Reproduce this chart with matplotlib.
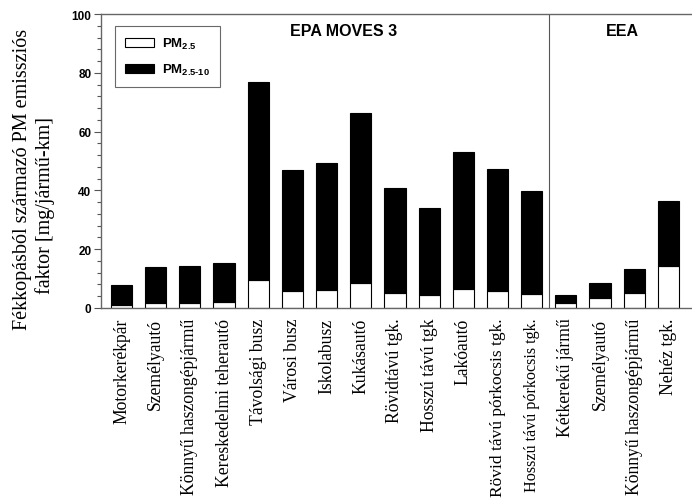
import matplotlib
matplotlib.use("Agg")
import matplotlib.pyplot as plt
from matplotlib.patches import Patch
from matplotlib.ticker import MultipleLocator
import numpy as np

categories = [
    "Motorkerékpár", "Személyautó", "Könnyű haszongépjármű",
    "Kereskedelmi teherautó", "Távolsági busz", "Városi busz",
    "Iskolabusz", "Kukásautó", "Rövidtávú tgk.", "Hosszú távú tgk",
    "Lakóautó", "Rövid távú pórkocsis tgk.", "Hosszú távú pórkocsis tgk.",
    "Kétkerekű jármű", "Személyautó", "Könnyű haszongépjármű", "Nehéz tgk.",
]
# PM2.5 part and total PM10 (mg/jármű-km)
pm25 = [1.1, 1.7, 1.7, 1.9, 9.5, 5.7, 6.1, 8.4, 5.1, 4.3, 6.6, 5.8, 4.9,
        1.7, 3.3, 5.1, 14.4]
pm10_total = [7.9, 13.8, 14.4, 15.3, 77.0, 47.0, 49.3, 66.2, 40.9, 34.1,
              53.0, 47.3, 39.7, 4.4, 8.4, 13.2, 36.3]
pm25_10 = [t - f for t, f in zip(pm10_total, pm25)]
groups = ["EPA MOVES 3", "EEA"]
n_epa = 13

plt.rcParams["mathtext.fontset"] = "custom"
plt.rcParams["mathtext.rm"] = "Liberation Sans:bold"
plt.rcParams["mathtext.bf"] = "Liberation Sans:bold"
plt.rcParams["mathtext.default"] = "bf"

fig = plt.figure(figsize=(6.92, 5.02), dpi=100)
ax = fig.add_axes([0.146, 0.3845, 0.854, 0.5855])

x = np.arange(len(categories))
w = 0.62
ax.bar(x, pm25, w, color="white", edgecolor="black", linewidth=0.8)
ax.bar(x, pm25_10, w, bottom=pm25, color="black", edgecolor="black",
       linewidth=0.8)

ax.set_xlim(-0.6, 16.69)
ax.set_ylim(0, 100)
ax.yaxis.set_major_locator(MultipleLocator(20))
ax.yaxis.set_minor_locator(MultipleLocator(4))
ax.tick_params(axis="y", which="major", length=5, width=0.8, color="#555555",
               labelsize=8.5, pad=2)
ax.tick_params(axis="y", which="minor", length=3, width=0.8, color="#555555")
for lab in ax.get_yticklabels():
    lab.set_fontfamily("Liberation Sans")
    lab.set_fontweight("bold")

ax.set_xticks(x)
ax.set_xticklabels(categories, rotation=90, family="Liberation Serif",
                   fontsize=12.7)
ax.tick_params(axis="x", length=0, pad=7)
# the two long trailer-truck labels are set smaller so they fit
label_sizes = {11: 12.5, 12: 11.6}
for i, lab in enumerate(ax.get_xticklabels()):
    if i in label_sizes:
        lab.set_fontsize(label_sizes[i])

for side in ("left", "bottom", "top"):
    ax.spines[side].set_color("#666666")
    ax.spines[side].set_linewidth(1.0)
ax.spines["right"].set_visible(False)

ax.axvline(n_epa - 0.5, color="#555555", linewidth=0.8)

ax.text((n_epa - 1) / 2 + 0.5, 94.5, groups[0], ha="center", va="center",
        family="Liberation Sans", fontweight="bold", fontsize=11.5)
ax.text(n_epa - 0.5 + (len(categories) - n_epa) / 2 + 0.15, 94.5, groups[1],
        ha="center", va="center", family="Liberation Sans",
        fontweight="bold", fontsize=11.5)

handles = [Patch(facecolor="white", edgecolor="black", linewidth=0.8),
           Patch(facecolor="black", edgecolor="black", linewidth=0.8)]
leg = ax.legend(handles, ["PM$_{2.5}$", "PM$_{2.5\u201010}$"],
                loc="upper left", bbox_to_anchor=(0.024, 0.959),
                borderaxespad=0, frameon=True, fancybox=False,
                edgecolor="#444444",
                prop={"family": "Liberation Sans", "weight": "bold",
                      "size": 9.5},
                handlelength=2.2, handleheight=0.6, handletextpad=0.6,
                borderpad=0.75, labelspacing=0.85)
leg.get_frame().set_linewidth(0.8)

# two-line y-axis title
fig.text(23 / 692, 1 - 179 / 502, "Fékkopásból származó PM emissziós",
         rotation=90, ha="center", va="center", family="Liberation Serif",
         fontsize=14.5)
fig.text(45 / 692, 1 - 205 / 502, "faktor [mg/jármű-km]",
         rotation=90, ha="center", va="center", family="Liberation Serif",
         fontsize=14.5)

fig.savefig("out.png", dpi=100)
